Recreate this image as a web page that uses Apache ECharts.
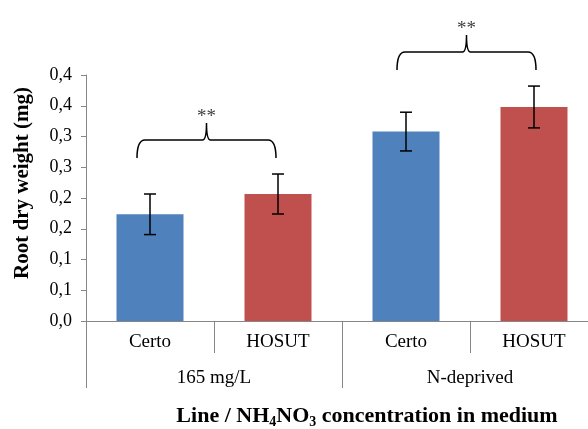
<!DOCTYPE html>
<html><head><meta charset="utf-8">
<script src="https://cdn.jsdelivr.net/npm/echarts@6/dist/echarts.min.js"></script>
<style>html,body{margin:0;padding:0;background:#fff}#c{width:588px;height:429px}</style>
</head><body><div id="c"></div>
<script>
// ---- data ----
const categories = ['Certo', 'HOSUT', 'Certo', 'HOSUT'];
const groups = ['165 mg/L', 'N-deprived'];
const values = [0.1735, 0.2065, 0.308, 0.348];
const errors = [0.033, 0.0325, 0.0315, 0.034];
const barColors = ['#4F81BD', '#C0504D', '#4F81BD', '#C0504D'];
const yTickLabels = ['0,0', '0,1', '0,1', '0,2', '0,2', '0,3', '0,3', '0,4', '0,4'];
const yStep = 0.05;
// significance brackets: [leftBarIndex, rightBarIndex]
const bracketPairs = [[0, 1], [2, 3]];
const bracketMarks = ['**', '**'];
const bracketShift = [[-13, -2], [-9, 2]];

const FONT = 'Liberation Serif';
const chart = echarts.init(document.getElementById('c'), null, {renderer: 'canvas'});

const option = {
  animation: false,
  backgroundColor: '#fff',
  grid: {left: 86, top: 75, width: 512, height: 246, containLabel: false, outerBoundsMode: 'none'},
  xAxis: [{
    type: 'category', data: categories, position: 'bottom',
    axisLine: {show: true, lineStyle: {color: '#868686', width: 1}},
    axisTick: {show: true, length: 32, lineStyle: {color: '#868686'}},
    axisLabel: {margin: 12, fontFamily: FONT, fontSize: 19, color: '#000', interval: 0}
  }, {
    type: 'category', data: groups, position: 'bottom',
    axisLine: {show: true, lineStyle: {color: '#868686', width: 1}},
    axisTick: {show: true, length: 67, lineStyle: {color: '#868686'}},
    axisLabel: {margin: 48, fontFamily: FONT, fontSize: 19, color: '#000', interval: 0}
  }],
  yAxis: {
    type: 'value', min: 0, max: 0.4, interval: yStep,
    splitLine: {show: false},
    axisLine: {show: true, lineStyle: {color: '#868686'}},
    axisTick: {show: true, length: 5, lineStyle: {color: '#868686'}},
    axisLabel: {
      margin: 14, fontFamily: FONT, fontSize: 18, color: '#000',
      formatter: v => yTickLabels[Math.round(v / yStep)]
    }
  },
  graphic: [{
    type: 'text', x: 23, y: 183, rotation: Math.PI / 2,
    style: {text: 'Root dry weight (mg)', fontFamily: FONT, fontWeight: 'bold', fontSize: 21,
      fill: '#000', align: 'center', verticalAlign: 'middle'}
  }, {
    type: 'text', x: 367, y: 417,
    style: {
      text: '{b|Line / NH}{s|4}{b|NO}{s|3}{b| concentration in medium}',
      align: 'center', verticalAlign: 'middle',
      rich: {
        b: {fontFamily: FONT, fontWeight: 'bold', fontSize: 22, fill: '#000', lineHeight: 24, verticalAlign: 'top'},
        s: {fontFamily: FONT, fontWeight: 'bold', fontSize: 14, fill: '#000', lineHeight: 14, verticalAlign: 'top', padding: [10, 0, 0, 0]}
      }
    }
  }],
  series: [{
    type: 'bar', xAxisIndex: 0, barWidth: 67,
    data: values.map((v, i) => ({value: v, itemStyle: {color: barColors[i]}}))
  }, {
    type: 'custom', xAxisIndex: 0, z: 5,
    data: values.map((v, i) => [i, v, errors[i]]),
    renderItem: (params, api) => {
      const x = api.value(0), v = api.value(1), e = api.value(2);
      const hi = api.coord([x, v + e]), lo = api.coord([x, v - e]);
      const cw = 6;
      const st = {stroke: '#000', lineWidth: 1.5};
      return {type: 'group', children: [
        {type: 'line', shape: {x1: hi[0], y1: hi[1], x2: lo[0], y2: lo[1]}, style: st},
        {type: 'line', shape: {x1: hi[0] - cw, y1: hi[1], x2: hi[0] + cw, y2: hi[1]}, style: st},
        {type: 'line', shape: {x1: lo[0] - cw, y1: lo[1], x2: lo[0] + cw, y2: lo[1]}, style: st}
      ]};
    }
  }, {
    type: 'custom', xAxisIndex: 0, z: 6, clip: false,
    data: bracketPairs.map((p, k) => [p[0], p[1], k]),
    renderItem: (params, api) => {
      const a = api.value(0), b = api.value(1), k = api.value(2);
      const topA = api.coord([a, values[a] + errors[a]]);
      const topB = api.coord([b, values[b] + errors[b]]);
      const yE = Math.min(topA[1], topB[1]) - 16;
      const yH = yE - 18, yP = yE - 35;
      const L = topA[0] + bracketShift[k][0], R = topB[0] + bracketShift[k][1];
      const M = (L + R) / 2, r = 8, c = 4;
      const d = `M${L},${yE} Q${L},${yH} ${L + r},${yH} L${M - c},${yH} Q${M},${yH} ${M},${yP} ` +
                `Q${M},${yH} ${M + c},${yH} L${R - r},${yH} Q${R},${yH} ${R},${yE}`;
      return {type: 'group', children: [
        {type: 'path', shape: {pathData: d}, style: {stroke: '#000', lineWidth: 1.5, fill: null}},
        {type: 'text', x: M, y: yP - 6, style: {text: bracketMarks[k], fontFamily: FONT, fontSize: 19,
          fill: '#404040', align: 'center', verticalAlign: 'middle'}}
      ]};
    }
  }]
};
chart.setOption(option);
</script></body></html>
